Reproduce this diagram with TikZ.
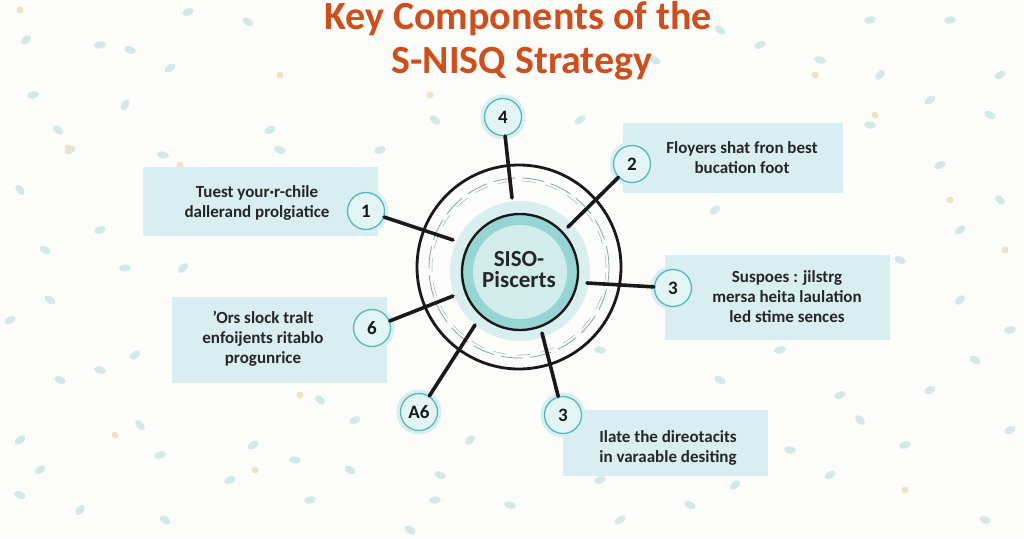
\documentclass[tikz,border=0pt]{standalone}
\usepackage{fontspec}
\setmainfont{Carlito}
\definecolor{bgc}{HTML}{FCFCFB}
\definecolor{boxc}{HTML}{D8EEF1}
\definecolor{dotc}{HTML}{D3E9E7}
\definecolor{doty}{HTML}{EFE4C2}
\definecolor{bandc}{HTML}{97D4D4}
\definecolor{corec}{HTML}{D0EDEC}
\definecolor{haloc}{HTML}{D9EFEF}
\definecolor{badgeline}{HTML}{52B8B8}
\definecolor{badgefill}{HTML}{E2F4F4}
\definecolor{titlec}{HTML}{CF4F1C}
\definecolor{dashc}{HTML}{7FA8A8}
\begin{document}
\begin{tikzpicture}[x=1pt,y=-1pt,
  panel/.style={fill=boxc,draw=none,inner sep=0pt},
  paneltext/.style={font=\bfseries\fontsize{17}{20}\selectfont,align=center,text=black!85,inner sep=0pt},
  badge/.style={circle,draw=badgeline,line width=1.3pt,fill=badgefill,minimum size=37pt,inner sep=0pt,
    font=\bfseries\fontsize{19}{19}\selectfont,text=black!90,
    preaction={draw=haloc,line width=8pt}},
  spoke/.style={line width=3.6pt,black!90,line cap=round},
  dot/.style={fill=dotc},
  doty/.style={fill=doty}]
\useasboundingbox (0,0) rectangle (1024,538);
\fill[bgc] (0,0) rectangle (1024,538);
% confetti
\foreach \x/\y/\a in {188/12/20,248/22/-30,26/40/40,100/45/10,130/50/-20,170/68/35,58/130/-40,33/95/15,125/105/60,163/155/-10,70/150/30,20/190/-50,100/230/20,45/250/-25,183/268/45,125/268/5,50/300/-35,10/320/25,100/370/-15,135/355/40,140/425/-45,160/455/15,40/470/30,20/495/-20,80/510/50,165/520/-30,230/480/20,295/460/-10,253/445/35,320/400/-40,310/500/15,355/420/25,350/470/-30,470/440/45,510/505/-15,435/500/10,410/530/-35,600/480/20,690/505/-25,735/485/40,790/450/-10,830/475/30,860/420/-45,905/445/15,930/390/25,975/360/-30,1010/330/10,960/300/40,900/260/-20,960/230/30,1000/200/-40,940/165/20,870/125/-10,930/100/35,990/115/-25,880/75/45,820/60/-15,760/45/25,720/30/-35,950/20/10,1000/75/30,705/165/-20,715/210/40,780/350/15,720/380/-30,840/395/20,600/350/-10,580/120/30,435/120/-40,270/130/25,280/150/-15,20/440/35,60/380/-25,870/20/15,655/60/-30,380/150/20,440/475/-20,620/520/30,985/520/-15,1010/430/25}
  \fill[dot,rotate around={\a:(\x,\y)}] (\x,\y) ellipse (6pt and 3.5pt);
\foreach \x/\y in {20/10,68/148,180/165,280/75,300/395,115/435,255/470,745/415,905/490,950/200,875/115,1005/250,815/75,430/95,690/270}
  \fill[doty] (\x,\y) circle (3.5pt);
% title
\node[font=\bfseries\fontsize{40}{40}\selectfont,text=titlec,inner sep=0pt] (t1) at (518,19) {Key Components of the};
\node[font=\bfseries\fontsize{40}{40}\selectfont,text=titlec,inner sep=0pt] (t2) at (522,64) {S-NISQ Strategy};
% panels
\node[panel,minimum width=235pt,minimum height=69pt] (p1) at (260.5,201.5) {};
\node[panel,minimum width=215pt,minimum height=86pt] (p6) at (279.5,340) {};
\node[panel,minimum width=220pt,minimum height=70pt] (p2) at (733,158) {};
\node[panel,minimum width=225pt,minimum height=85pt] (p3) at (777.5,297.5) {};
\node[panel,minimum width=205pt,minimum height=66pt] (p5) at (665.5,443) {};
\node[paneltext] (x1) at (257,203) {Tuest your·r-chile\\dallerand prolgiatice};
\node[paneltext] (x6) at (263,339) {’Ors slock tralt\\enfoijents ritablo\\progunrice};
\node[paneltext] (x2) at (742,158) {Floyers shat fron best\\bucation foot};
\node[paneltext] (x3) at (787,297) {Suspoes : jilstrg\\mersa heita laulation\\led stime sences};
\node[paneltext] (x5) at (668,448) {Ilate the direotacits\\in varaable desiting};
% hub
\fill[haloc] (520,271) circle (70pt);
\draw[black!90,line width=2.8pt] (519,267) circle (102pt);
\draw[dashc,line width=0.8pt,dash pattern=on 22pt off 7pt] (519,268) circle (90pt);
\draw[dashc!70,line width=0.6pt,dash pattern=on 14pt off 10pt] (519,268) circle (87pt);
\fill[haloc] (520,271) circle (68pt);
\node[circle,draw=black!90,line width=2.4pt,fill=bandc,minimum size=116pt,inner sep=0pt] (hub) at (520,272) {};
\fill[corec] (520,272) circle (47pt);
\node[font=\bfseries\fontsize{23}{21}\selectfont,align=center,text=black!85,inner sep=0pt] (hubt) at (519,270) {SISO-\\Piscerts};
% spoke ends
\coordinate (e1) at (453,240);
\coordinate (e4) at (512,198);
\coordinate (e2) at (568,227);
\coordinate (e3) at (587,283);
\coordinate (e5) at (542,333);
\coordinate (eA) at (475,325);
\coordinate (e6) at (453,296);
% badges
\node[badge] (b1) at (366,211) {1};
\node[badge] (b4) at (503,117) {4};
\node[badge] (b2) at (632,164) {2};
\node[badge] (b3) at (673,288) {3};
\node[badge] (b5) at (563,415) {3};
\node[badge] (bA) at (419,412) {A6};
\node[badge] (b6) at (372,328) {6};
% spokes
\draw[spoke] (b1) -- (e1);
\draw[spoke] (b4) -- (e4);
\draw[spoke] (b2) -- (e2);
\draw[spoke] (b3) -- (e3);
\draw[spoke] (b5) -- (e5);
\draw[spoke] (bA) -- (eA);
\draw[spoke] (b6) -- (e6);
\end{tikzpicture}
\end{document}
